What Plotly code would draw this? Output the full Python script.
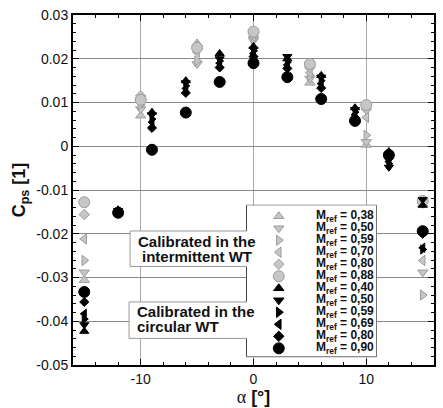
import plotly.graph_objects as go

# ---------------- data ----------------
alpha_iwt = [-15, -10, -5, 0, 5, 10, 15]
alpha_cwt = [-15, -12, -9, -6, -3, 0, 3, 6, 9, 12, 15]

iwt_labels = ["0,38", "0,50", "0,59", "0,70", "0,80", "0,88"]
cwt_labels = ["0,40", "0,50", "0,59", "0,69", "0,80", "0,90"]
symbols = ["triangle-up", "triangle-down", "triangle-right", "triangle-left", "diamond", "circle"]

# Calibrated in the intermittent WT (grey)
iwt_m038 = [-0.0306, 0.0070, 0.0235, 0.0255, 0.0145, 0.0003, -0.0132]
iwt_m050 = [-0.0288, 0.0085, 0.0188, 0.0242, 0.0155, 0.0010, -0.0288]
iwt_m059 = [-0.0261, 0.0095, 0.0195, 0.0245, 0.0162, 0.0025, -0.0340]
iwt_m070 = [-0.0212, 0.0100, 0.0215, 0.0250, 0.0168, 0.0066, -0.0261]
iwt_m080 = [-0.0156, 0.0115, 0.0228, 0.0258, 0.0180, 0.0085, -0.0130]
iwt_m088 = [-0.0128, 0.0106, 0.0225, 0.0262, 0.0188, 0.0094, -0.0125]

# Calibrated in the circular WT (black)
cwt_m040 = [-0.0423, -0.0145, 0.0078, 0.0150, 0.0212, 0.0228, 0.0200, 0.0162, 0.0088, -0.0012, -0.0135]
cwt_m050 = [-0.0408, -0.0147, 0.0072, 0.0145, 0.0200, 0.0222, 0.0205, 0.0158, 0.0084, -0.0048, -0.0122]
cwt_m059 = [-0.0395, -0.0150, 0.0062, 0.0138, 0.0195, 0.0218, 0.0192, 0.0150, 0.0078, -0.0040, -0.0236]
cwt_m069 = [-0.0383, -0.0150, 0.0055, 0.0132, 0.0190, 0.0212, 0.0186, 0.0143, 0.0072, -0.0035, -0.0232]
cwt_m080 = [-0.0356, -0.0152, 0.0042, 0.0122, 0.0180, 0.0205, 0.0178, 0.0133, 0.0065, -0.0028, -0.0200]
cwt_m090 = [-0.0333, -0.0152, -0.0008, 0.0077, 0.0147, 0.0190, 0.0158, 0.0108, 0.0058, -0.0020, -0.0194]

x_tickvals = [-10, 0, 10]
x_ticktext = ["-10", "0", "10"]
y_tickvals = [-0.05, -0.04, -0.03, -0.02, -0.01, 0, 0.01, 0.02, 0.03]
y_ticktext = ["-0.05", "-0.04", "-0.03", "-0.02", "-0.01", "0", "0.01", "0.02", "0.03"]

box_iwt_lines = ["Calibrated in the", "intermittent WT"]
box_cwt_lines = ["Calibrated in the", "circular WT"]

# ---------------- styles ----------------
GREY_FILL = "#c6c6c6"
GREY_LINE = "#9c9c9c"
BLACK = "#000000"
sizes = {"triangle-up": 9, "triangle-down": 9, "triangle-right": 9,
         "triangle-left": 9, "diamond": 8, "circle": 11}
FONT = "Liberation Sans, Arial, sans-serif"
TXT = "#111111"

iwt_series = [iwt_m038, iwt_m050, iwt_m059, iwt_m070, iwt_m080, iwt_m088]
cwt_series = [cwt_m040, cwt_m050, cwt_m059, cwt_m069, cwt_m080, cwt_m090]

fig = go.Figure()

for vals, sym, lab in zip(iwt_series, symbols, iwt_labels):
    fig.add_trace(go.Scatter(
        x=alpha_iwt, y=vals, mode="markers", name="M_ref = " + lab,
        marker=dict(symbol=sym, size=sizes[sym], color=GREY_FILL,
                    line=dict(color=GREY_LINE, width=1)),
        xaxis="x", yaxis="y", showlegend=False))

for vals, sym, lab in zip(cwt_series, symbols, cwt_labels):
    fig.add_trace(go.Scatter(
        x=alpha_cwt, y=vals, mode="markers", name="M_ref = " + lab,
        marker=dict(symbol=sym, size=sizes[sym] - (1 if sym != "circle" else 0),
                    color=BLACK, line=dict(color=BLACK, width=1)),
        xaxis="x", yaxis="y", showlegend=False))

# ---------------- manual legend (own little axes) ----------------
legend_labels = iwt_labels + cwt_labels
legend_symbols = symbols + symbols
legend_fill = [GREY_FILL] * 6 + [BLACK] * 6
legend_line = [GREY_LINE] * 6 + [BLACK] * 6
for i, (sym, lab) in enumerate(zip(legend_symbols, legend_labels)):
    fig.add_trace(go.Scatter(
        x=[0.246], y=[i], mode="markers",
        marker=dict(symbol=sym, size=sizes[sym], color=legend_fill[i],
                    line=dict(color=legend_line[i], width=1)),
        xaxis="x2", yaxis="y2", showlegend=False, hoverinfo="skip"))
    fig.add_annotation(
        x=0.52, y=i, xref="x2", yref="y2", xanchor="left", yanchor="middle",
        text="<b>M<sub>ref</sub> = " + lab + "</b>", showarrow=False,
        font=dict(family=FONT, size=12, color=TXT))

# legend frame (above grid, below data)
fig.add_shape(type="rect", xref="x", yref="y", x0=-0.62, x1=10.9,
              y0=-0.0481, y1=-0.0135, layer="between",
              fillcolor="white", line=dict(color="#444444", width=1))

# text box frames (above grid)
fig.add_shape(type="rect", xref="x", yref="y", x0=-10.94, x1=0.88,
              y0=-0.02748, y1=-0.01937, layer="between",
              fillcolor="white", line=dict(color="#999999", width=1))
fig.add_shape(type="rect", xref="x", yref="y", x0=-11.03, x1=0.71,
              y0=-0.04392, y1=-0.03559, layer="between",
              fillcolor="white", line=dict(color="#999999", width=1))

# text box contents
for line, yy in zip(box_iwt_lines, [0.3535, 0.3113]):
    fig.add_annotation(x=0.3444, y=yy, xref="paper", yref="paper",
                       xanchor="center", yanchor="middle",
                       text="<b>" + line + "</b>", showarrow=False,
                       font=dict(family=FONT, size=15, color=TXT))
for line, yy in zip(box_cwt_lines, [0.1521, 0.1099]):
    fig.add_annotation(x=0.1708, y=yy, xref="paper", yref="paper",
                       xanchor="left", yanchor="middle",
                       text="<b>" + line + "</b>", showarrow=False,
                       font=dict(family=FONT, size=15, color=TXT))

axis_common = dict(showline=True, linecolor="black", linewidth=2, mirror="allticks",
                   ticks="inside", ticklen=6, tickwidth=1, tickcolor="black",
                   zeroline=False, gridwidth=1,
                   tickfont=dict(family=FONT, size=14, color=TXT))

fig.update_layout(
    width=443, height=408,
    margin=dict(l=73, r=7, t=11, b=42),
    paper_bgcolor="white", plot_bgcolor="white",
    showlegend=False,
    xaxis=dict(range=[-16, 16], tickmode="array", tickvals=x_tickvals, ticktext=x_ticktext,
               showgrid=True, gridcolor="#a8a8a8",
               minor=dict(tickmode="linear", tick0=0, dtick=2, ticks="inside",
                          ticklen=3, tickcolor="black", showgrid=False),
               title=dict(text='<span style="font-family:Liberation Serif">α</span> <b>[°]</b>',
                          font=dict(family=FONT, size=18, color=TXT), standoff=2),
               **axis_common),
    yaxis=dict(range=[-0.05, 0.03], tickmode="array", tickvals=y_tickvals, ticktext=y_ticktext,
               showgrid=True, gridcolor="#888888",
               minor=dict(tickmode="linear", tick0=0, dtick=0.002, ticks="inside",
                          ticklen=3, tickcolor="black", showgrid=False),
               title=dict(text="<b>C<sub>ps</sub> [1]</b>",
                          font=dict(family=FONT, size=18, color=TXT), standoff=6),
               **axis_common),
    xaxis2=dict(domain=[0.482, 0.840], range=[0, 1], visible=False, anchor="y2", fixedrange=True),
    yaxis2=dict(domain=[0.025, 0.456], range=[11.66, -0.90], visible=False, anchor="x2", fixedrange=True),
)

fig.write_html("out.html")
